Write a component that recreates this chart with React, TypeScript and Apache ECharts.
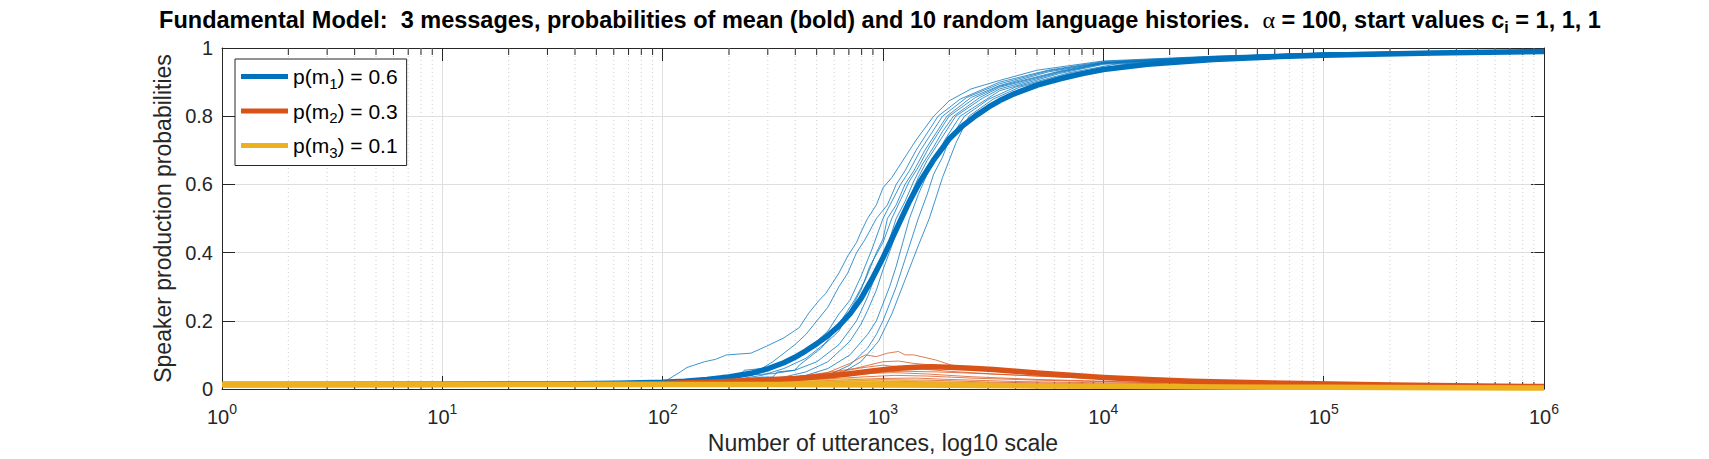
import React, { useEffect, useRef } from "react";
import * as echarts from "echarts";

// ---- data: points are [log10(number of utterances), probability] ----
const BLUE_MEAN = [[0,0.013],[1,0.014],[1.5,0.015],[1.8,0.017],[2,0.02],[2.1,0.023],[2.2,0.028],[2.3,0.035],[2.4,0.046],[2.48,0.06],[2.55,0.077],[2.6,0.093],[2.65,0.112],[2.7,0.133],[2.75,0.157],[2.8,0.185],[2.85,0.22],[2.9,0.265],[2.95,0.322],[3.0,0.385],[3.04,0.44],[3.08,0.495],[3.12,0.55],[3.167,0.607],[3.23,0.672],[3.3,0.733],[3.36,0.771],[3.42,0.801],[3.48,0.827],[3.53,0.846],[3.6,0.867],[3.7,0.891],[3.8,0.909],[3.9,0.924],[4,0.937],[4.2,0.952],[4.5,0.966],[4.8,0.975],[5,0.979],[5.5,0.985],[6,0.99]];
const ORANGE_MEAN = [[0,0.013],[1,0.013],[1.5,0.014],[2,0.016],[2.2,0.02],[2.4,0.025],[2.6,0.031],[2.75,0.038],[2.85,0.045],[2.95,0.053],[3.05,0.06],[3.15,0.064],[3.22,0.065],[3.3,0.064],[3.4,0.061],[3.5,0.057],[3.6,0.052],[3.7,0.047],[3.85,0.04],[4,0.034],[4.2,0.028],[4.4,0.023],[4.6,0.02],[4.9,0.016],[5.3,0.012],[5.7,0.009],[6,0.007]];
const YELLOW_MEAN = [[0,0.013],[1,0.013],[2,0.013],[2.5,0.013],[3,0.012],[3.3,0.011],[3.7,0.009],[4,0.008],[4.5,0.006],[5,0.005],[6,0.003]];

const BLUE_H1 = [[0,0.013],[1.5,0.015],[1.9,0.018],[2.02,0.026],[2.08,0.05],[2.11,0.063],[2.19,0.08],[2.24,0.087],[2.29,0.1],[2.4,0.105],[2.47,0.125],[2.55,0.15],[2.62,0.18],[2.66,0.22],[2.71,0.26],[2.74,0.28],[2.77,0.31],[2.8,0.34],[2.84,0.39],[2.88,0.43],[2.9,0.46],[2.93,0.5],[2.97,0.54],[3.0,0.59],[3.04,0.62],[3.08,0.66],[3.12,0.7],[3.15,0.73],[3.19,0.765],[3.23,0.8],[3.3,0.845],[3.4,0.88],[3.53,0.905],[3.7,0.935],[4,0.962],[4.5,0.976],[5,0.986],[6,0.994]];
const BLUE_H2 = [[0,0.013],[1.6,0.015],[2.0,0.02],[2.2,0.03],[2.25,0.03],[2.27,0.04],[2.35,0.04],[2.37,0.055],[2.45,0.06],[2.5,0.08],[2.6,0.13],[2.65,0.16],[2.7,0.2],[2.75,0.24],[2.8,0.3],[2.84,0.34],[2.88,0.4],[2.92,0.44],[2.97,0.5],[3.02,0.54],[3.06,0.6],[3.1,0.64],[3.15,0.7],[3.2,0.75],[3.25,0.8],[3.35,0.85],[3.53,0.9],[3.75,0.935],[4,0.96],[4.5,0.975],[5,0.985],[6,0.993]];
const BLUE_H3 = [[0,0.013],[1.8,0.016],[2.1,0.022],[2.3,0.03],[2.4,0.04],[2.5,0.06],[2.6,0.09],[2.7,0.14],[2.75,0.17],[2.8,0.22],[2.85,0.26],[2.9,0.33],[2.95,0.41],[3.0,0.5],[3.04,0.55],[3.08,0.6],[3.12,0.64],[3.17,0.7],[3.22,0.75],[3.27,0.8],[3.38,0.855],[3.53,0.895],[3.75,0.933],[4,0.958],[4.5,0.975],[5,0.985],[6,0.993]];
const BLUE_H4 = [[0,0.013],[1.9,0.016],[2.2,0.02],[2.35,0.028],[2.45,0.035],[2.5,0.035],[2.52,0.05],[2.6,0.055],[2.62,0.07],[2.72,0.12],[2.77,0.16],[2.82,0.21],[2.87,0.26],[2.92,0.32],[2.97,0.4],[3.0,0.44],[3.02,0.5],[3.06,0.54],[3.1,0.6],[3.14,0.64],[3.19,0.7],[3.24,0.75],[3.29,0.8],[3.4,0.855],[3.53,0.89],[3.75,0.93],[4,0.957],[4.5,0.974],[5,0.985],[6,0.993]];
const BLUE_H5 = [[0,0.013],[2.0,0.018],[2.3,0.025],[2.45,0.04],[2.55,0.06],[2.65,0.09],[2.75,0.14],[2.8,0.17],[2.85,0.23],[2.9,0.29],[2.94,0.36],[3.0,0.43],[3.04,0.5],[3.08,0.555],[3.12,0.61],[3.16,0.65],[3.21,0.71],[3.25,0.75],[3.3,0.8],[3.42,0.855],[3.53,0.888],[3.8,0.932],[4,0.956],[4.5,0.974],[5,0.984],[6,0.993]];
const BLUE_H6 = [[0,0.013],[2.0,0.017],[2.2,0.025],[2.35,0.04],[2.5,0.045],[2.6,0.055],[2.7,0.08],[2.8,0.13],[2.88,0.2],[2.93,0.27],[2.97,0.34],[3.02,0.42],[3.06,0.5],[3.1,0.55],[3.14,0.61],[3.18,0.66],[3.23,0.71],[3.27,0.755],[3.32,0.8],[3.44,0.855],[3.53,0.885],[3.8,0.93],[4,0.955],[4.5,0.973],[5,0.984],[6,0.992]];
const BLUE_H7 = [[0,0.013],[2.1,0.018],[2.4,0.025],[2.55,0.035],[2.65,0.05],[2.75,0.08],[2.85,0.14],[2.9,0.19],[2.93,0.23],[2.97,0.29],[3.0,0.35],[3.04,0.42],[3.08,0.5],[3.12,0.56],[3.16,0.62],[3.2,0.67],[3.25,0.72],[3.29,0.76],[3.33,0.8],[3.45,0.852],[3.53,0.88],[3.8,0.928],[4,0.954],[4.5,0.972],[5,0.984],[6,0.992]];
const BLUE_H8 = [[0,0.013],[2.2,0.018],[2.5,0.025],[2.65,0.04],[2.75,0.06],[2.85,0.1],[2.93,0.16],[2.97,0.2],[3.0,0.25],[3.03,0.3],[3.06,0.36],[3.09,0.43],[3.12,0.5],[3.16,0.57],[3.2,0.63],[3.24,0.68],[3.28,0.73],[3.35,0.8],[3.47,0.85],[3.53,0.875],[3.8,0.925],[4,0.952],[4.5,0.972],[5,0.983],[6,0.992]];
const BLUE_H9 = [[0,0.013],[2.3,0.018],[2.6,0.025],[2.75,0.04],[2.85,0.07],[2.93,0.12],[2.97,0.16],[3.0,0.2],[3.03,0.25],[3.06,0.3],[3.11,0.4],[3.16,0.5],[3.2,0.57],[3.23,0.63],[3.27,0.68],[3.3,0.73],[3.37,0.8],[3.48,0.85],[3.6,0.885],[3.85,0.928],[4.05,0.952],[4.5,0.971],[5,0.983],[6,0.992]];
const BLUE_H10 = [[0,0.013],[2.4,0.018],[2.7,0.03],[2.82,0.05],[2.9,0.08],[2.98,0.14],[3.01,0.18],[3.04,0.22],[3.07,0.27],[3.1,0.32],[3.13,0.37],[3.16,0.42],[3.21,0.5],[3.24,0.56],[3.27,0.62],[3.3,0.67],[3.33,0.72],[3.39,0.8],[3.5,0.85],[3.62,0.885],[3.85,0.925],[4.1,0.952],[4.5,0.97],[5,0.982],[6,0.991]];

const ORANGE_H1 = [[0,0.013],[2,0.016],[2.5,0.025],[2.74,0.046],[2.85,0.075],[2.92,0.1],[2.97,0.095],[3.02,0.105],[3.07,0.11],[3.1,0.1],[3.14,0.1],[3.24,0.085],[3.31,0.07],[3.45,0.058],[3.7,0.045],[4,0.033],[4.5,0.022],[5,0.015],[6,0.008]];
const ORANGE_H2 = [[0,0.013],[2.2,0.018],[2.6,0.035],[2.87,0.06],[3.0,0.08],[3.07,0.082],[3.14,0.075],[3.3,0.066],[3.5,0.055],[3.8,0.042],[4.2,0.03],[4.7,0.02],[5.3,0.013],[6,0.008]];
const ORANGE_H3 = [[0,0.013],[2.2,0.017],[2.6,0.03],[2.8,0.042],[2.95,0.05],[3.1,0.052],[3.25,0.05],[3.45,0.045],[3.7,0.038],[4.1,0.028],[4.6,0.019],[5.2,0.013],[6,0.007]];
const ORANGE_H4 = [[0,0.013],[2.3,0.018],[2.7,0.03],[2.95,0.046],[3.05,0.048],[3.2,0.044],[3.4,0.036],[3.7,0.028],[4.1,0.021],[4.6,0.016],[5.2,0.011],[6,0.006]];
const ORANGE_H5 = [[0,0.013],[2.3,0.017],[2.7,0.028],[2.9,0.035],[3.05,0.04],[3.2,0.038],[3.4,0.032],[3.7,0.026],[4.1,0.02],[4.7,0.014],[5.3,0.01],[6,0.006]];
const ORANGE_H6 = [[0,0.013],[2.4,0.017],[2.8,0.026],[3.0,0.031],[3.15,0.032],[3.3,0.028],[3.6,0.022],[4,0.018],[4.6,0.013],[5.3,0.009],[6,0.005]];
const ORANGE_H7 = [[0,0.013],[2.4,0.016],[2.8,0.022],[3.0,0.027],[3.2,0.026],[3.5,0.02],[3.9,0.016],[4.5,0.012],[5.2,0.008],[6,0.005]];
const ORANGE_H8 = [[0,0.013],[2.5,0.016],[2.9,0.02],[3.1,0.022],[3.3,0.02],[3.6,0.016],[4,0.013],[4.6,0.01],[5.3,0.007],[6,0.004]];
const ORANGE_H9 = [[0,0.013],[2.5,0.015],[2.9,0.018],[3.1,0.019],[3.3,0.017],[3.7,0.014],[4.2,0.011],[5,0.008],[6,0.004]];
const ORANGE_H10 = [[0,0.013],[2.2,0.018],[2.6,0.032],[2.8,0.05],[2.9,0.062],[3.0,0.07],[3.05,0.066],[3.15,0.06],[3.3,0.052],[3.5,0.044],[3.8,0.035],[4.2,0.026],[4.8,0.018],[5.4,0.012],[6,0.007]];

const YELLOW_H1 = [[0,0.013],[2,0.014],[2.4,0.018],[2.7,0.022],[3,0.02],[3.3,0.015],[3.8,0.01],[4.5,0.007],[6,0.003]];
const YELLOW_H2 = [[0,0.013],[2.2,0.014],[2.6,0.017],[2.9,0.018],[3.2,0.014],[3.6,0.011],[4.3,0.007],[6,0.003]];
const YELLOW_H3 = [[0,0.013],[2.3,0.013],[2.8,0.015],[3.1,0.013],[3.5,0.01],[4.2,0.006],[6,0.002]];
const YELLOW_H4 = [[0,0.013],[2,0.015],[2.5,0.02],[2.75,0.026],[2.95,0.025],[3.2,0.019],[3.6,0.013],[4.2,0.009],[5,0.005],[6,0.003]];
const YELLOW_H5 = [[0,0.013],[2.4,0.013],[2.9,0.012],[3.2,0.01],[3.7,0.008],[4.5,0.005],[6,0.002]];
const YELLOW_H6 = [[0,0.013],[2.1,0.015],[2.6,0.019],[2.9,0.021],[3.1,0.018],[3.5,0.013],[4.1,0.008],[5,0.005],[6,0.003]];
const YELLOW_H7 = [[0,0.013],[2.5,0.012],[3,0.011],[3.4,0.009],[4,0.006],[5,0.004],[6,0.002]];
const YELLOW_H8 = [[0,0.013],[2.3,0.014],[2.7,0.016],[3,0.016],[3.3,0.013],[3.8,0.009],[4.6,0.006],[6,0.003]];
const YELLOW_H9 = [[0,0.013],[2.2,0.016],[2.5,0.022],[2.7,0.028],[2.85,0.03],[3.05,0.026],[3.3,0.02],[3.7,0.014],[4.3,0.009],[5.2,0.005],[6,0.003]];
const YELLOW_H10 = [[0,0.013],[2.6,0.012],[3,0.01],[3.5,0.008],[4.2,0.005],[6,0.002]];

const BLUE_HISTORIES = [BLUE_H1, BLUE_H2, BLUE_H3, BLUE_H4, BLUE_H5, BLUE_H6, BLUE_H7, BLUE_H8, BLUE_H9, BLUE_H10];
const ORANGE_HISTORIES = [ORANGE_H1, ORANGE_H2, ORANGE_H3, ORANGE_H4, ORANGE_H5, ORANGE_H6, ORANGE_H7, ORANGE_H8, ORANGE_H9, ORANGE_H10];
const YELLOW_HISTORIES = [YELLOW_H1, YELLOW_H2, YELLOW_H3, YELLOW_H4, YELLOW_H5, YELLOW_H6, YELLOW_H7, YELLOW_H8, YELLOW_H9, YELLOW_H10];

const LEGEND_NAMES = ["m1", "m2", "m3"];
const LEGEND_SUBS = ["1", "2", "3"];
const LEGEND_VALUES = ["0.6", "0.3", "0.1"];
const COLORS = ["#0072BD", "#D95319", "#EDB120"];

const DECADES = [1, 10, 100, 1000, 10000, 100000];
const MINOR_MULTS = [2, 3, 4, 5, 6, 7, 8, 9];

const X_MIN = 1;
const X_MAX = 1000000;
const Y_TICKS_INTERVAL = 0.2;

const FONT = "'Liberation Sans', Arial, Helvetica, sans-serif";
const AX = "#262626";

const toXY = (pts: number[][]) => pts.map(([e, y]) => [Math.pow(10, e), y]);

export default function App() {
  const ref = useRef<HTMLDivElement>(null);
  useEffect(() => {
    document.body.style.margin = "0";
    if (!ref.current) return;
    const chart = echarts.init(ref.current, null, { renderer: "svg" });

    const minorData: number[][] = [];
    DECADES.forEach((d) => MINOR_MULTS.forEach((m) => minorData.push([d * m, 0])));

    const thin = (pts: number[][], color: string, i: number, tag: string) => ({
      name: tag + i,
      type: "line",
      data: toXY(pts),
      showSymbol: false,
      symbol: "none",
      silent: true,
      z: 3,
      lineStyle: { color, width: 0.9, opacity: 0.85 },
      itemStyle: { color },
    });

    const bold = (pts: number[][], idx: number) => ({
      name: LEGEND_NAMES[idx],
      type: "line",
      data: toXY(pts),
      showSymbol: false,
      symbol: "none",
      silent: true,
      z: 5 + idx,
      color: COLORS[idx],
      lineStyle: { color: COLORS[idx], width: 5.5, join: "round" },
      itemStyle: { color: COLORS[idx] },
    });

    const option: any = {
      animation: false,
      backgroundColor: "#ffffff",
      title: {
        text:
          "{t|Fundamental Model:  3 messages, probabilities of mean (bold) and 10 random language histories.  }{a|α}{t| = 100, start values c}{s|i}{t| = 1, 1, 1}",
        left: 880,
        top: 5,
        padding: 0,
        textAlign: "center",
        textStyle: {
          rich: {
            t: { fontFamily: FONT, fontSize: 23.5, fontWeight: "bold", color: "#000", lineHeight: 30 },
            a: { fontFamily: "'Liberation Serif', 'DejaVu Serif', serif", fontSize: 24, fontWeight: "normal", color: "#000", lineHeight: 30 },
            s: { fontFamily: FONT, fontSize: 16, fontWeight: "bold", color: "#000", verticalAlign: "bottom" },
          },
        },
      },
      legend: {
        data: LEGEND_NAMES,
        orient: "vertical",
        left: 235,
        top: 59,
        icon: "rect",
        itemWidth: 47,
        itemHeight: 5,
        itemGap: 10,
        padding: [7, 9, 6, 6],
        borderColor: AX,
        borderWidth: 1,
        backgroundColor: "#ffffff",
        selectedMode: false,
        formatter: (name: string) => {
          const i = LEGEND_NAMES.indexOf(name);
          return `{t|p(m}{s|${LEGEND_SUBS[i]}}{t|) = ${LEGEND_VALUES[i]}}`;
        },
        textStyle: {
          rich: {
            t: { fontFamily: FONT, fontSize: 21, color: "#000", lineHeight: 28 },
            s: { fontFamily: FONT, fontSize: 15, color: "#000", verticalAlign: "bottom" },
          },
        },
      },
      grid: { left: 222, right: 165, top: 48, bottom: 70, containLabel: false, outerBoundsMode: "none" },
      xAxis: [
        {
          type: "log",
          logBase: 10,
          min: X_MIN,
          max: X_MAX,
          position: "bottom",
          name: "Number of utterances, log10 scale",
          nameLocation: "middle",
          nameGap: 42,
          nameTextStyle: { fontFamily: FONT, fontSize: 23, color: AX },
          axisLine: { show: true, onZero: false, lineStyle: { color: AX, width: 1 } },
          axisTick: { show: true, inside: true, length: 13, lineStyle: { color: AX, width: 1 } },
          minorTick: { show: false },
          axisLabel: {
            show: true,
            margin: 13,
            formatter: (v: number) => `{b|10}{e|${Math.round(Math.log10(v))}}`,
            rich: {
              b: { fontFamily: FONT, fontSize: 20, color: AX, lineHeight: 30 },
              e: { fontFamily: FONT, fontSize: 14, color: AX, verticalAlign: "top" },
            },
          },
          splitLine: { show: true, lineStyle: { color: "#dfdfdf", width: 1 } },
        },
        {
          type: "log",
          logBase: 10,
          min: X_MIN,
          max: X_MAX,
          position: "top",
          axisLine: { show: true, onZero: false, lineStyle: { color: AX, width: 1 } },
          axisTick: { show: true, inside: true, length: 13, lineStyle: { color: AX, width: 1 } },
          axisLabel: { show: false },
          splitLine: { show: false },
        },
      ],
      yAxis: [
        {
          type: "value",
          min: 0,
          max: 1,
          interval: Y_TICKS_INTERVAL,
          position: "left",
          name: "Speaker production probabilities",
          nameLocation: "middle",
          nameGap: 42,
          nameRotate: 90,
          nameTextStyle: { fontFamily: FONT, fontSize: 23, color: AX },
          axisLine: { show: true, onZero: false, lineStyle: { color: AX, width: 1 } },
          axisTick: { show: true, inside: true, length: 13, lineStyle: { color: AX, width: 1 } },
          axisLabel: { show: true, margin: 9, fontFamily: FONT, fontSize: 20, color: AX },
          splitLine: { show: true, lineStyle: { color: "#dfdfdf", width: 1 } },
        },
        {
          type: "value",
          min: 0,
          max: 1,
          interval: Y_TICKS_INTERVAL,
          position: "right",
          axisLine: { show: true, onZero: false, lineStyle: { color: AX, width: 1 } },
          axisTick: { show: true, inside: true, length: 13, lineStyle: { color: AX, width: 1 } },
          axisLabel: { show: false },
          splitLine: { show: false },
        },
      ],
      series: [
        {
          name: "minor",
          type: "custom",
          xAxisIndex: 0,
          yAxisIndex: 0,
          silent: true,
          z: 1,
          data: minorData,
          encode: { x: 0, y: 1 },
          renderItem: (params: any, api: any) => {
            const x = api.value(0);
            const top = api.coord([x, 1]);
            const bot = api.coord([x, 0]);
            return {
              type: "group",
              children: [
                { type: "line", shape: { x1: top[0], y1: top[1], x2: bot[0], y2: bot[1] }, style: { stroke: "#cfcfcf", lineWidth: 1, lineDash: [1, 3] } },
                { type: "line", shape: { x1: bot[0], y1: bot[1], x2: bot[0], y2: bot[1] - 7 }, style: { stroke: AX, lineWidth: 1 } },
                { type: "line", shape: { x1: top[0], y1: top[1], x2: top[0], y2: top[1] + 7 }, style: { stroke: AX, lineWidth: 1 } },
              ],
            };
          },
        },
        ...BLUE_HISTORIES.map((h, i) => thin(h, COLORS[0], i, "b")),
        ...ORANGE_HISTORIES.map((h, i) => thin(h, COLORS[1], i, "o")),
        ...YELLOW_HISTORIES.map((h, i) => thin(h, COLORS[2], i, "y")),
        bold(BLUE_MEAN, 0),
        bold(ORANGE_MEAN, 1),
        bold(YELLOW_MEAN, 2),
      ],
    };

    chart.setOption(option);
    return () => chart.dispose();
  }, []);

  return <div ref={ref} style={{ width: 1709, height: 459 }} />;
}
